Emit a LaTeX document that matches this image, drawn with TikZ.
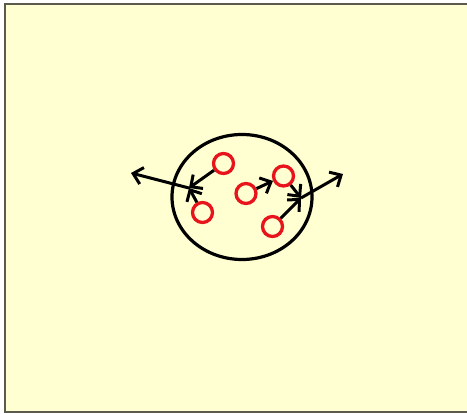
\documentclass[tikz,border=0pt]{standalone}
\usetikzlibrary{arrows.meta}
\definecolor{bg}{HTML}{FFFFD2}
\definecolor{frame}{HTML}{5A5A4E}
\definecolor{dotred}{HTML}{E8141C}
\begin{document}
\begin{tikzpicture}[x=1pt,y=-1pt,
  dot/.style={circle,draw=dotred,line width=3.3pt,minimum size=20pt,inner sep=0pt},
  flow/.style={line width=3pt,-{Straight Barb[length=9pt,width=17pt,line width=3pt]}},
  cell/.style={draw=black,line width=3.2pt}]
\useasboundingbox (0,0) rectangle (467,414);
\clip (0,0) rectangle (467,414);
\fill[white] (0,0) rectangle (467,414);
\fill[bg] (5,4) rectangle (480,412);
\draw[frame,line width=2.2pt] (480,4) -- (5,4) -- (5,412) -- (480,412);
\draw[cell] (242,197) ellipse [x radius=70, y radius=62.5];
\node[dot] (a) at (223.5,163.5) {};
\node[dot] (b) at (246,193.5) {};
\node[dot] (c) at (283.5,176) {};
\node[dot] (d) at (202.5,212.5) {};
\node[dot] (e) at (272.5,226.5) {};
\coordinate (jl) at (189,188);
\coordinate (jr) at (301,198);
\coordinate (ol) at (131,173);
\coordinate (or) at (343,174);
\draw[flow] (a) -- (jl);
\draw[flow] (d) -- (jl);
\draw[flow] (jl) -- (ol);
\draw[flow] (b) -- (c);
\draw[flow] (c) -- (jr);
\draw[flow] (e) -- (jr);
\draw[flow] (jr) -- (or);
\end{tikzpicture}
\end{document}
